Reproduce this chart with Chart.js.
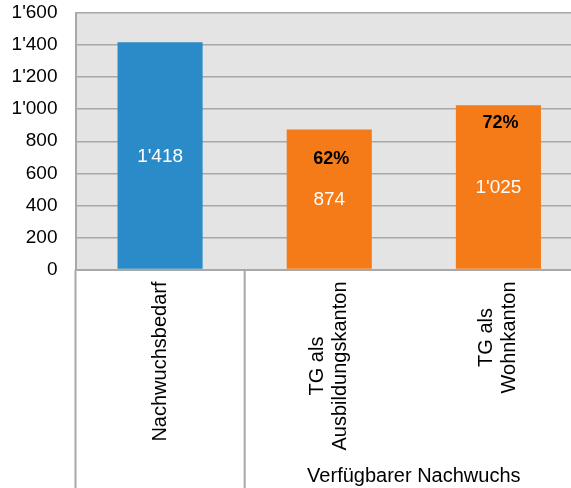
<!DOCTYPE html>
<html>
<head>
<meta charset="utf-8">
<script src="https://cdn.jsdelivr.net/npm/chart.js@4/dist/chart.umd.min.js"></script>
<style>
  html, body { margin: 0; padding: 0; overflow: hidden; background: #fff; }
  canvas { display: block; }
</style>
</head>
<body>
<canvas id="grafik" width="583" height="488"></canvas>
<script>
// Daten
const kategorien = [["Nachwuchsbedarf"], ["TG als", "Ausbildungskanton"], ["TG als", "Wohnkanton"]];
const werte = [1418, 874, 1025];
const balkenFarben = ["#2b8ac8", "#f47b17", "#f47b17"];
const prozentLabels = [null, "62%", "72%"];
const prozentPosition = [null, 690, 915]; // Höhe der Prozent-Beschriftung (Achsenwert)
const gruppenLabel = "Verfügbarer Nachwuchs";
const yTicks = [0, 200, 400, 600, 800, 1000, 1200, 1400, 1600];

const schrift = "'Liberation Sans', Arial, sans-serif";
const linienFarbe = "#a8a8a8";

// 1'418 statt 1,418
function formatZahl(v) {
    if (v >= 1000) return Math.floor(v / 1000) + "'" + String(v % 1000).padStart(3, "0");
    return String(v);
}

const hintergrund = {
    id: "hintergrund",
    beforeDraw(chart) {
        const { ctx, chartArea: a } = chart;
        ctx.save();
        ctx.fillStyle = "#e4e4e4";
        ctx.fillRect(a.left, a.top, a.right - a.left, a.bottom - a.top);
        ctx.restore();
    }
};

const beschriftung = {
    id: "beschriftung",
    afterDraw(chart) {
        const { ctx, chartArea: a } = chart;
        const x = chart.scales.x, y = chart.scales.y;
        const hoehe = chart.height;
        ctx.save();

        // Trennlinien unter der Achse
        ctx.strokeStyle = linienFarbe;
        ctx.lineWidth = 2;
        [a.left, x.getPixelForValue(0.5)].forEach(px => {
            ctx.beginPath();
            ctx.moveTo(px, a.bottom);
            ctx.lineTo(px, hoehe);
            ctx.stroke();
        });

        // Kategorien, um 90° gedreht
        ctx.fillStyle = "#000";
        ctx.font = "20px " + schrift;
        ctx.textAlign = "center";
        ctx.textBaseline = "middle";
        kategorien.forEach((zeilen, i) => {
            const cx = x.getPixelForValue(i);
            const maxB = Math.max(...zeilen.map(z => ctx.measureText(z).width));
            zeilen.forEach((z, j) => {
                const off = (j - (zeilen.length - 1) / 2) * 23;
                ctx.save();
                ctx.translate(cx + off, a.bottom + 12 + maxB / 2);
                ctx.rotate(-Math.PI / 2);
                ctx.fillText(z, 0, 0);
                ctx.restore();
            });
        });

        // Gruppenbeschriftung
        const gx = (x.getPixelForValue(0.5) + a.right) / 2;
        ctx.fillText(gruppenLabel, gx, 476);

        // Werte in den Balken
        const meta = chart.getDatasetMeta(0);
        ctx.font = "19px " + schrift;
        ctx.fillStyle = "#fff";
        meta.data.forEach((bar, i) => {
            ctx.fillText(formatZahl(werte[i]), bar.x, (bar.y + bar.base) / 2 + 1);
        });

        // Prozentangaben
        ctx.font = "bold 18px " + schrift;
        ctx.fillStyle = "#000";
        meta.data.forEach((bar, i) => {
            if (prozentLabels[i]) {
                ctx.fillText(prozentLabels[i], bar.x + 2, y.getPixelForValue(prozentPosition[i]));
            }
        });
        ctx.restore();
    }
};

new Chart(document.getElementById("grafik"), {
    type: "bar",
    data: {
        labels: kategorien.map(z => z.join(" ")),
        datasets: [{
            data: werte,
            backgroundColor: balkenFarben,
            borderWidth: 0,
            barPercentage: 1,
            categoryPercentage: 0.503
        }]
    },
    options: {
        responsive: false,
        animation: false,
        layout: { padding: 0 },
        plugins: {
            legend: { display: false },
            tooltip: { enabled: false }
        },
        scales: {
            x: {
                grid: { display: false },
                border: { color: linienFarbe, width: 2 },
                ticks: { display: false },
                afterFit: s => { s.height = 218.5; s.paddingLeft = 0; s.paddingRight = 0; }
            },
            y: {
                min: 0,
                max: 1600,
                afterBuildTicks: s => { s.ticks = yTicks.map(v => ({ value: v })); },
                grid: { color: linienFarbe, lineWidth: 1.5, drawTicks: false },
                border: { color: linienFarbe, width: 2 },
                ticks: {
                    padding: 18,
                    color: "#000",
                    font: { family: schrift, size: 19 },
                    callback: v => formatZahl(v)
                },
                afterFit: s => { s.width = 75.5; s.paddingTop = 13; s.paddingBottom = 0; }
            }
        }
    },
    plugins: [hintergrund, beschriftung]
});
</script>
</body>
</html>
